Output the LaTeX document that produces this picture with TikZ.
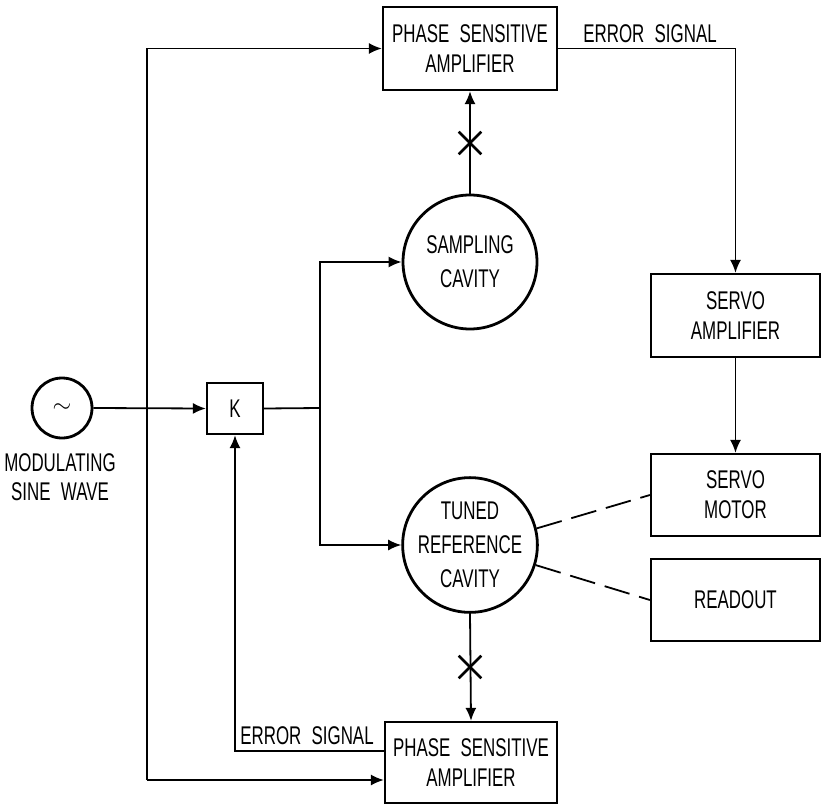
\documentclass[tikz,border=0pt]{standalone}
\usepackage{fontspec}
\newfontfamily\letterfont[FakeStretch=0.66,WordSpace=2.2]{Liberation Sans}
\usetikzlibrary{arrows.meta,positioning,shapes.misc}

\tikzset{
	block/.style={draw=black, line width=1.1pt, align=center, inner sep=0pt, font=\letterfont\fontsize{12.8}{15}\selectfont},
	cavity/.style={circle, draw=black, line width=1.4pt, minimum size=67pt, align=center, inner sep=0pt, font=\letterfont\fontsize{12.8}{17}\selectfont},
	tag/.style={inner sep=0pt, align=center, font=\letterfont\fontsize{12.8}{14.5}\selectfont},
	wire/.style={line width=0.9pt},
	signal/.style={line width=0.9pt, -{Latex[length=6.5pt,width=5.5pt]}},
	link/.style={line width=0.9pt, dash pattern=on 13pt off 5pt},
	crossmark/.style={cross out, draw=black, line width=1.3pt, minimum size=10pt, inner sep=0pt}
}

\begin{document}
\begin{tikzpicture}[x=0.5pt,y=-0.5pt]
	\useasboundingbox (0,0) rectangle (822,807);
	% blocks
	\node[block, minimum width=87pt, minimum height=41.5pt] (psatop) at (470,48.5) {PHASE SENSITIVE\\AMPLIFIER};
	\node[block, minimum width=86pt, minimum height=40.5pt] (psabot) at (471,762.5) {PHASE SENSITIVE\\AMPLIFIER};
	\node[block, minimum width=84.5pt, minimum height=41.5pt] (servoamp) at (735.5,315.5) {SERVO\\AMPLIFIER};
	\node[block, minimum width=84.5pt, minimum height=41pt] (servomotor) at (735.5,495) {SERVO\\MOTOR};
	\node[block, minimum width=84.5pt, minimum height=41pt] (readout) at (735.5,600) {READOUT};
	\node[block, minimum width=28pt, minimum height=25.5pt] (kbox) at (235,408.5) {K};
	% cavities and source
	\node[cavity] (sampling) at (470,262) {SAMPLING\\CAVITY};
	\node[cavity] (tuned) at (470,545) {TUNED\\REFERENCE\\CAVITY};
	\node[circle, draw=black, line width=1.4pt, minimum size=30pt, inner sep=0pt, font=\fontsize{12.5}{15}\selectfont] (sine) at (62,408) {$\sim$};
	\node[tag, anchor=north] (sinelabel) at (60,453.5) {MODULATING\\SINE WAVE};
	% crosses on the cavity outputs
	\node[crossmark] (xtop) at (470,143) {};
	\node[crossmark] (xbot) at (470,667) {};
	% reference line on the left
	\coordinate (feedbot) at (147,780);
	\draw[signal] (feedbot) |- (psatop.west);
	\draw[signal] (feedbot) -- (psabot.west |- feedbot);
	% main signal path
	\draw[signal] (sine.east) -- (kbox.west);
	\coordinate (split) at (320,408);
	\draw[wire] (kbox.east) -- (split);
	\draw[signal] (split) |- (sampling.west);
	\draw[signal] (split) |- (tuned.west);
	\draw[signal] (sampling.north) -- (psatop.south);
	\draw[signal] (tuned.south) -- (psabot.north);
	% error signals
	\draw[signal] (psatop.east) -| (servoamp.north);
	\node[tag, anchor=base] (errtop) at (650,43) {ERROR SIGNAL};
	\path (psabot.west) ++(0,-11.5) coordinate (errout);
	\draw[signal] (errout) -| (kbox.south);
	\node[tag, anchor=base] (errbot) at (307,744) {ERROR SIGNAL};
	\draw[signal] (servoamp.south) -- (servomotor.north);
	% mechanical links
	\draw[link] (tuned.14) -- (servomotor.west);
	\draw[link] (tuned.-17) -- (readout.west);
\end{tikzpicture}
\end{document}
